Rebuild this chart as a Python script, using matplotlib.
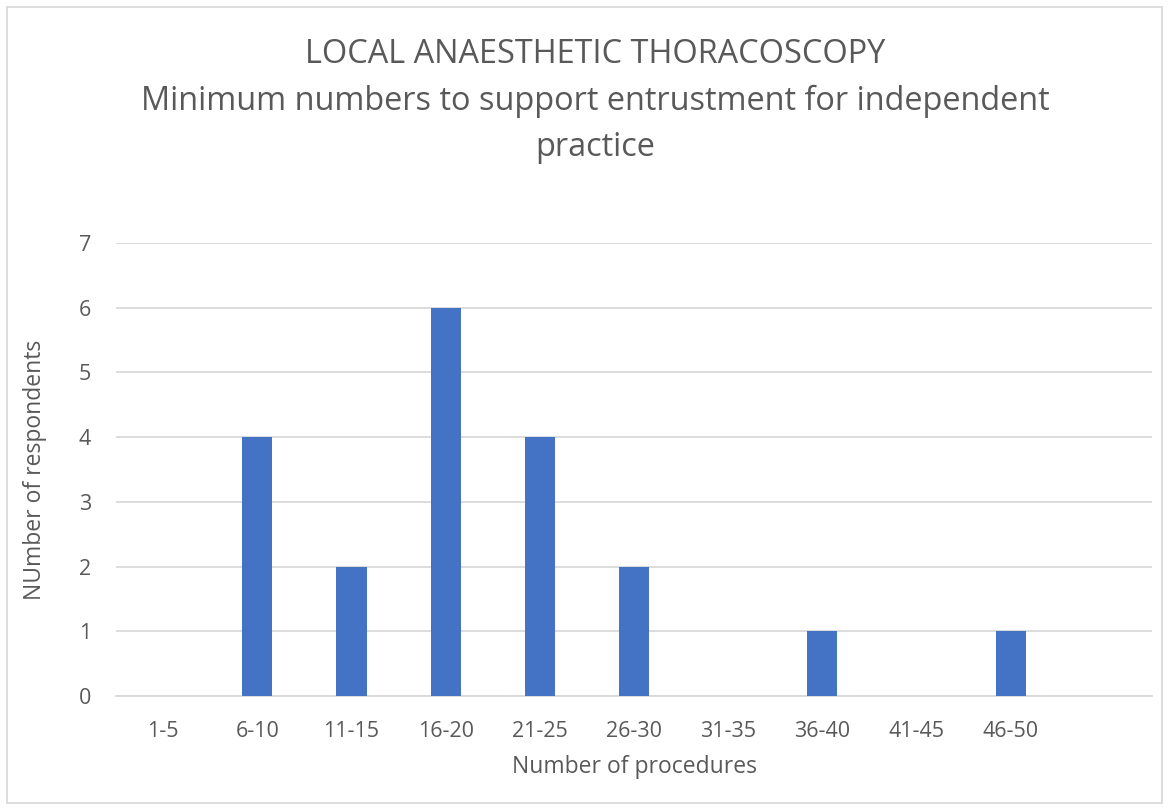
import matplotlib.pyplot as plt
from matplotlib.patches import Rectangle

categories = ["1-5", "6-10", "11-15", "16-20", "21-25", "26-30",
              "31-35", "36-40", "41-45", "46-50", ""]
respondents = [0, 4, 2, 6, 4, 2, 0, 1, 0, 1, 0]

title = ("LOCAL ANAESTHETIC THORACOSCOPY\n"
         "Minimum numbers to support entrustment for independent\n"
         "practice")

plt.rcParams['font.family'] = ['Open Sans', 'DejaVu Sans']
grey = '#595959'

W, H = 1169, 810
fig = plt.figure(figsize=(W / 100, H / 100), dpi=100)
ax = fig.add_axes([116 / W, (H - 696) / H, (1152 - 116) / W, (696 - 243) / H])

x = list(range(len(categories)))
ax.bar(x, respondents, width=0.32, color='#4472c4', zorder=3)

ax.set_xlim(-0.5, len(categories) - 0.5)
ax.set_ylim(0, 7)
ax.set_yticks(range(0, 8))
ax.set_xticks(x)
ax.set_xticklabels(categories)
ax.grid(axis='y', color='#d9d9d9', linewidth=1.3, zorder=0)
for s in ['top', 'right', 'left']:
    ax.spines[s].set_visible(False)
ax.spines['bottom'].set_color('#d9d9d9')
ax.spines['bottom'].set_linewidth(1.3)
ax.tick_params(axis='both', length=0, labelsize=15.5, colors=grey)
ax.tick_params(axis='x', pad=18)
ax.tick_params(axis='y', pad=18)

fig.text(634 / W, 1 - 767 / H, "Number of procedures", ha='center', va='center',
         fontsize=16.5, color=grey)
fig.text(35 / W, 1 - 470 / H, "NUmber of respondents", ha='center', va='center',
         rotation=90, fontsize=16.5, color=grey)
fig.text(595 / W, 1 - 101 / H, title, ha='center', va='center',
         fontsize=23.4, color=grey, linespacing=1.54)

fig.patches.append(Rectangle((7 / W, 7 / H), 1 - 14 / W, 1 - 14 / H,
                             transform=fig.transFigure, fill=False,
                             edgecolor='#d9d9d9', linewidth=1.3))

fig.savefig('out.png', dpi=100)
